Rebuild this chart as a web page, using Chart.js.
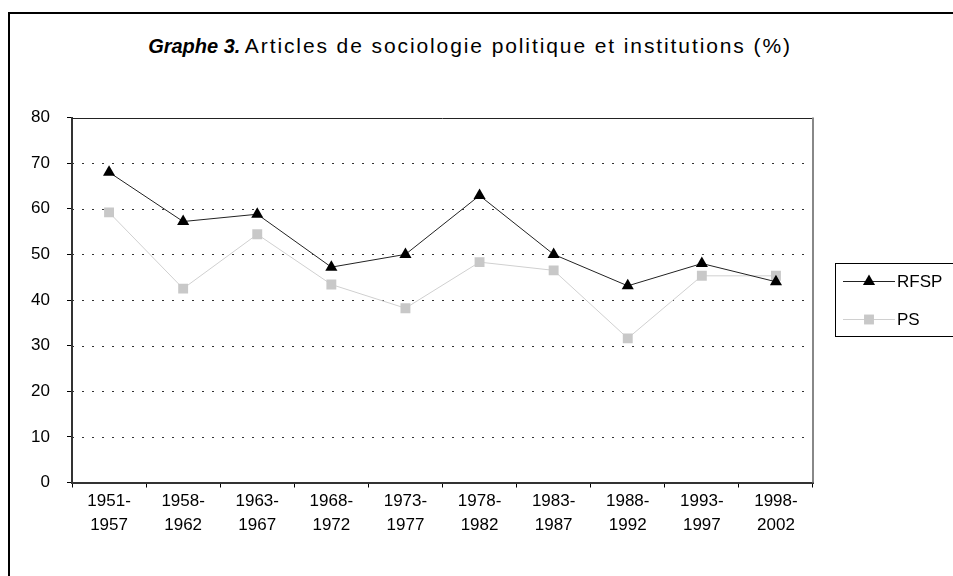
<!DOCTYPE html>
<html>
<head>
<meta charset="utf-8">
<script src="https://cdn.jsdelivr.net/npm/chart.js@4"></script>
<style>
  html, body { margin: 0; padding: 0; background: #fff; overflow: hidden; }
  #wrap { position: relative; width: 953px; height: 576px; font-family: "Liberation Sans", Arial, sans-serif; }
  #frame { position: absolute; left: 8px; top: 12px; width: 1000px; height: 600px; border: 2px solid #000; box-sizing: border-box; }
  #title { position: absolute; left: 0; width: 940px; top: 34px; text-align: center; color: #000; white-space: nowrap; }
  #title b { font-size: 20px; }
  #title span { font-size: 21px; letter-spacing: 1.9px; }
  canvas { position: absolute; left: 0; top: 0; }
</style>
</head>
<body>
<div id="wrap">
  <div id="frame"></div>
  <div id="title"><b><i>Graphe 3.</i></b> <span>Articles de sociologie politique et institutions (%)</span></div>
  <canvas id="chart" width="953" height="576"></canvas>
</div>
<script>
// periods
const periods = [
  ["1951-", "1957"], ["1958-", "1962"], ["1963-", "1967"], ["1968-", "1972"], ["1973-", "1977"],
  ["1978-", "1982"], ["1983-", "1987"], ["1988-", "1992"], ["1993-", "1997"], ["1998-", "2002"]
];
const rfsp = [68, 57.2, 58.8, 47.2, 50, 62.9, 50, 43.1, 48, 44];
const ps = [59.2, 42.5, 54.4, 43.4, 38.2, 48.3, 46.5, 31.6, 45.3, 45.3];
const yTicks = [0, 10, 20, 30, 40, 50, 60, 70, 80];

const FONT = "'Liberation Sans', Arial, sans-serif";

// dotted grid behind the lines
const dottedGrid = {
  id: "dottedGrid",
  beforeDatasetsDraw(chart) {
    const ctx = chart.ctx, a = chart.chartArea, y = chart.scales.y;
    ctx.save();
    ctx.strokeStyle = "#333";
    ctx.lineWidth = 1;
    ctx.setLineDash([2, 8]);
    yTicks.forEach(v => {
      if (v === 0 || v === 80) return;
      const py = Math.round(y.getPixelForValue(v)) + 0.5;
      ctx.beginPath();
      ctx.moveTo(a.left, py);
      ctx.lineTo(a.right, py);
      ctx.stroke();
    });
    ctx.restore();
  }
};

// frame of the plot area (top + right) and the side legend
const extras = {
  id: "extras",
  afterDatasetsDraw(chart) {
    const ctx = chart.ctx, a = chart.chartArea;
    ctx.save();
    ctx.strokeStyle = "#222";
    ctx.lineWidth = 1;
    ctx.beginPath();
    ctx.moveTo(a.left, Math.round(a.top) + 0.5);
    ctx.lineTo(a.right, Math.round(a.top) + 0.5);
    ctx.stroke();
    ctx.strokeStyle = "#888";
    ctx.lineWidth = 2;
    ctx.beginPath();
    ctx.moveTo(a.right, a.top);
    ctx.lineTo(a.right, a.bottom);
    ctx.stroke();

    // legend
    ctx.strokeStyle = "#000";
    ctx.lineWidth = 1;
    ctx.strokeRect(835.5, 263.5, 140, 73);
    ctx.font = "17px " + FONT;
    ctx.textBaseline = "middle";
    chart.data.datasets.forEach((ds, i) => {
      const y = 281 + i * 38;
      ctx.strokeStyle = ds.borderColor;
      ctx.lineWidth = 1;
      ctx.beginPath();
      ctx.moveTo(843, y + 0.5);
      ctx.lineTo(895, y + 0.5);
      ctx.stroke();
      ctx.fillStyle = ds.pointBackgroundColor;
      ctx.beginPath();
      Chart.helpers.drawPoint(ctx, {pointStyle: ds.pointStyle, radius: ds.pointRadius, borderWidth: 0}, 869, y + 0.5);
      ctx.fillStyle = "#000";
      ctx.fillText(ds.label, 897, y + 1);
    });
    ctx.restore();
  }
};

new Chart(document.getElementById("chart"), {
  type: "line",
  data: {
    labels: periods,
    datasets: [{
      label: "RFSP",
      data: rfsp,
      borderColor: "#222",
      borderWidth: 1,
      pointStyle: "triangle",
      pointRadius: 7,
      pointBackgroundColor: "#000",
      pointBorderColor: "#000",
      pointBorderWidth: 0,
      tension: 0
    }, {
      label: "PS",
      data: ps,
      borderColor: "#d0d0d0",
      borderWidth: 1,
      pointStyle: "rect",
      pointRadius: 7,
      pointBackgroundColor: "#c8c8c8",
      pointBorderColor: "#c8c8c8",
      pointBorderWidth: 0,
      tension: 0
    }]
  },
  options: {
    responsive: false,
    animation: false,
    devicePixelRatio: 1,
    layout: { padding: { left: 0, top: 117.5, right: 140, bottom: 0 } },
    plugins: { legend: { display: false }, title: { display: false }, tooltip: { enabled: false } },
    scales: {
      x: {
        offset: true,
        grid: { display: true, drawOnChartArea: false, drawTicks: true, tickLength: 5, offset: true, tickColor: "#000" },
        border: { color: "#333", width: 2 },
        ticks: { color: "#000", font: { family: FONT, size: 17, lineHeight: 1.42 }, padding: 2, maxRotation: 0, autoSkip: false },
        afterFit(scale) { scale.height = 93.5; }
      },
      y: {
        min: 0, max: 80,
        afterBuildTicks(scale) { scale.ticks = yTicks.map(v => ({ value: v })); },
        grid: { drawOnChartArea: false, drawTicks: true, tickLength: 5, tickColor: "#000" },
        border: { color: "#333", width: 2 },
        ticks: { color: "#000", font: { family: FONT, size: 17 }, padding: 17 },
        afterFit(scale) { scale.width = 72; }
      }
    }
  },
  plugins: [dottedGrid, extras]
});
</script>
</body>
</html>
